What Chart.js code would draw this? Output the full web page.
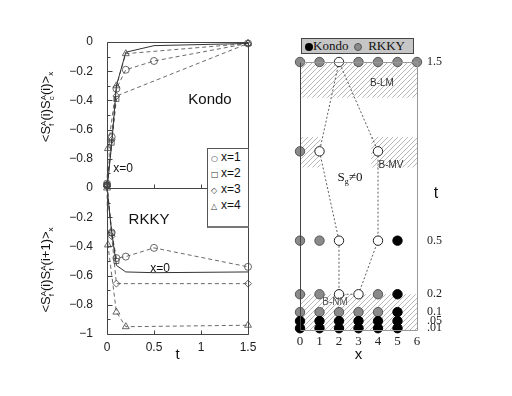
<!DOCTYPE html>
<html>
<head>
<meta charset="utf-8">
<script src="https://cdn.jsdelivr.net/npm/chart.js@4.4.0/dist/chart.umd.min.js"></script>
<style>
html, body { margin: 0; padding: 0; background: #fff; }
#wrap { position: relative; width: 512px; height: 396px; overflow: hidden; }
canvas { position: absolute; left: 0; top: 0; }
.lbl { position: absolute; font-family: "Liberation Sans", Arial, sans-serif; color: #111; white-space: nowrap; line-height: 1; transform: translate(-50%, -50%); }
.serif { font-family: "Liberation Serif", "Times New Roman", serif; }
.ytitle { position: absolute; font-family: "Liberation Sans", Arial, sans-serif; font-size: 13px; line-height: 16px; color: #111; white-space: nowrap; transform: translate(-50%, -50%) rotate(-90deg); }
.ss { display: inline-block; vertical-align: -4px; font-size: 8px; line-height: 8px; }
.ss i { display: block; font-style: normal; }
.sx { font-size: 8px; vertical-align: -3px; }
#leg { position: absolute; left: 207px; top: 148px; width: 40px; height: 77px; border: 1px solid #555; border-bottom: 2px solid #777; background: #fff; font-family: "Liberation Sans", Arial, sans-serif; font-size: 12px; color: #111; }
#leg div { height: 16px; line-height: 16px; padding-left: 3px; }
#leg span { font-family: "DejaVu Sans", sans-serif; font-size: 8px; display: inline-block; width: 10px; color: #333; }
#pleg { position: absolute; left: 301px; top: 38px; width: 111px; height: 14px; border: 1px solid #444; background: #c6c6c6; font-family: "Liberation Serif", serif; font-size: 13px; line-height: 14px; color: #111; }
.dot { display: inline-block; width: 8px; height: 8px; border-radius: 50%; vertical-align: -1px; box-sizing: border-box; }
</style>
</head>
<body>
<div id="wrap">
  <canvas id="kondo" width="512" height="396"></canvas>
  <canvas id="rkky" width="512" height="396"></canvas>
  <canvas id="phase" width="512" height="396"></canvas>

  <div class="ytitle" style="left:48px; top:107px">&lt;S<span class="ss"><i>A</i><i>f</i></span>(i)S<span class="ss"><i>A</i><i>c</i></span>(i)&gt;<span class="sx">x</span></div>
  <div class="ytitle" style="left:48px; top:270px">&lt;S<span class="ss"><i>A</i><i>f</i></span>(i)S<span class="ss"><i>A</i><i>f</i></span>(i+1)&gt;<span class="sx">x</span></div>

  <div class="lbl" style="left:210px; top:98px; font-size:15px">Kondo</div>
  <div class="lbl" style="left:149px; top:218px; font-size:15px">RKKY</div>
  <div class="lbl" style="left:123px; top:168px; font-size:12px">x=0</div>
  <div class="lbl" style="left:160px; top:268px; font-size:12px">x=0</div>

  <div id="leg">
    <div><span>○</span>x=1</div>
    <div><span>□</span>x=2</div>
    <div><span>◇</span>x=3</div>
    <div><span>△</span>x=4</div>
  </div>

  <div id="pleg">
    <span class="dot" style="background:#000; margin-left:3px"></span>Kondo
    <span class="dot" style="background:#8a8a8a; border:1px solid #555; margin-left:2px"></span>&nbsp; RKKY
  </div>

  <div class="lbl" style="left:382px; top:83px; font-size:10px; color:#333">B-LM</div>
  <div class="lbl" style="left:391px; top:165px; font-size:10px; color:#333">B-MV</div>
  <div class="lbl serif" style="left:350px; top:178px; font-size:13px">S<sub style="font-size:8px">g</sub>&#8800;0</div>
  <div class="lbl" style="left:335px; top:302px; font-size:10px; color:#555">B-NM</div>
  <div class="lbl" style="left:436px; top:193px; font-size:16px">t</div>
</div>

<script>
// ---- left panel: Kondo correlation <Sf Sc>_x versus t
const kondoT0 = [0, 0.01, 0.05, 0.1, 0.2, 0.5, 1.5];
const kondoV0 = [-0.99, -0.95, -0.70, -0.30, -0.07, -0.025, -0.01];
const kondoT1 = [0, 0.05, 0.1, 0.2, 0.5, 1.5];
const kondoV1 = [-0.97, -0.65, -0.32, -0.19, -0.13, -0.01];
const kondoT2 = [0, 0.05, 0.1];
const kondoV2 = [-0.98, -0.69, -0.39];
const kondoT3 = [0, 0.05, 0.1, 1.5];
const kondoV3 = [-0.98, -0.67, -0.37, -0.01];
const kondoT4 = [0, 0.01, 0.1, 0.2, 1.5];
const kondoV4 = [-0.98, -0.73, -0.30, -0.08, -0.01];

// ---- left panel: RKKY correlation <Sf(i) Sf(i+1)>_x versus t
const rkkyT0 = [0, 0.05, 0.1, 0.2, 0.5, 1.5];
const rkkyV0 = [0.0, -0.30, -0.53, -0.575, -0.58, -0.575];
const rkkyT1 = [0, 0.05, 0.1, 0.2, 0.5, 1.5];
const rkkyV1 = [0.02, -0.305, -0.48, -0.47, -0.41, -0.54];
const rkkyT2 = [0, 0.05, 0.1];
const rkkyV2 = [0.02, -0.31, -0.50];
const rkkyT3 = [0, 0.05, 0.1, 1.5];
const rkkyV3 = [0.01, -0.33, -0.655, -0.655];
const rkkyT4 = [0, 0.01, 0.1, 0.2, 1.5];
const rkkyV4 = [0.0, -0.39, -0.85, -0.95, -0.94];

// ---- right panel: phase diagram (K = Kondo, R = RKKY, S = Sg != 0)
const siteX = [0, 1, 2, 3, 4, 5, 6];
const rowT = [1.5, 1.0, 0.5, 0.2, 0.1, 0.05, 0.01];
const row150 = ['R', 'R', 'S', 'R', 'R', 'R', 'R'];
const row100 = ['R', 'S', '', '', 'S', '', ''];
const row050 = ['R', 'R', 'S', '', 'S', 'K', ''];
const row020 = ['R', 'R', 'S', 'S', 'R', 'K', ''];
const row010 = ['R', 'R', 'R', 'R', 'R', 'K', ''];
const row005 = ['K', 'K', 'K', 'K', 'K', 'K', ''];
const row001 = ['K', 'K', 'K', 'K', 'K', 'K', ''];
const phaseRows = [row150, row100, row050, row020, row010, row005, row001];

const boundaryX = [2, 1, 2, 2, 3, 4, 4, 2];
const boundaryT = [1.5, 1.0, 0.5, 0.2, 0.2, 0.5, 1.0, 1.5];

const bandX0 = [0, 0, 3.65, 0];
const bandX1 = [6, 1.05, 6, 6];
const bandT0 = [1.3, 0.91, 0.91, 0];
const bandT1 = [1.5, 1.08, 1.08, 0.2];

const tTicks = [0.01, 0.05, 0.1, 0.2, 0.5, 1.5];
const tTickLabels = ['.01', '.05', '0.1', '0.2', '0.5', '1.5'];

const sans = "'Liberation Sans', Arial, sans-serif";
const serif = "'Liberation Serif', 'Times New Roman', serif";

function pts(ts, vs) { return ts.map((t, i) => ({ x: t, y: vs[i] })); }

// frame around the plot area plus small inward ticks
const framePlugin = {
  id: 'frame',
  afterDatasetsDraw(chart, args, o) {
    const a = chart.chartArea, ctx = chart.ctx;
    const L = Math.round(a.left) + 0.5, R = Math.round(a.right) + 0.5;
    const T = Math.round(a.top) + 0.5, B = Math.round(a.bottom) + 0.5;
    ctx.save();
    ctx.lineWidth = 1;
    const seg = (x1, y1, x2, y2, c) => { ctx.strokeStyle = c; ctx.beginPath(); ctx.moveTo(x1, y1); ctx.lineTo(x2, y2); ctx.stroke(); };
    seg(L, T, R, T, o.top);
    seg(R, T, R, B, o.right);
    seg(L, B, R, B, o.bottom);
    seg(L, T, L, B, o.left);
    ctx.strokeStyle = '#444';
    if (o.yTicks) {
      const s = chart.scales.y;
      s.ticks.forEach(tk => {
        const y = Math.round(s.getPixelForValue(tk.value)) + 0.5;
        const len = tk.label === '' ? 3 : 5;
        ctx.beginPath(); ctx.moveTo(L, y); ctx.lineTo(L + len, y); ctx.stroke();
      });
    }
    if (o.xTicks) {
      const s = chart.scales.x;
      s.ticks.forEach(tk => {
        const x = Math.round(s.getPixelForValue(tk.value)) + 0.5;
        ctx.beginPath(); ctx.moveTo(x, B); ctx.lineTo(x, B - 4); ctx.stroke();
      });
    }
    ctx.restore();
  }
};

function seriesSets(t0, v0, t1, v1, t2, v2, t3, v3, t4, v4) {
  const mk = (d, style, r) => ({
    data: d, borderColor: '#444', borderWidth: 0.8, borderDash: [4, 3],
    pointStyle: style, pointRadius: r, pointBorderColor: '#444', pointBorderWidth: 0.8,
    pointBackgroundColor: 'rgba(255,255,255,0)', tension: 0, clip: false
  });
  return [
    { data: pts(t0, v0), borderColor: '#333', borderWidth: 1, pointRadius: 0, tension: 0, clip: false },
    mk(pts(t1, v1), 'circle', 3.5),
    mk(pts(t2, v2), 'rect', 3.5),
    mk(pts(t3, v3), 'rectRot', 3.5),
    mk(pts(t4, v4), 'triangle', 4)
  ];
}

function yLabel(hideBottom) {
  return function (v) {
    const k = Math.round(v * 10);
    if (k % 2 !== 0) return '';
    if (hideBottom && k === -10) return '';
    if (k === 0) return '0';
    if (k === -10) return '\u22121';
    return '\u2212' + Math.abs(v).toFixed(1);
  };
}

const baseOpts = {
  responsive: false, animation: false,
  plugins: { legend: { display: false }, tooltip: { enabled: false } }
};

new Chart(document.getElementById('kondo'), {
  type: 'line',
  data: { datasets: seriesSets(kondoT0, kondoV0, kondoT1, kondoV1, kondoT2, kondoV2, kondoT3, kondoV3, kondoT4, kondoV4) },
  options: Object.assign({}, baseOpts, {
    layout: { padding: { left: 67, right: 264, top: 42, bottom: 208 } },
    plugins: { legend: { display: false }, tooltip: { enabled: false },
      frame: { top: '#444', right: '#444', bottom: '#444', left: '#444', yTicks: true, xTicks: true } },
    scales: {
      x: { type: 'linear', min: 0, max: 1.5, display: false, ticks: { stepSize: 0.5 } },
      y: { min: -1, max: 0, afterFit: s => { s.width = 40; },
        grid: { display: false, drawTicks: false }, border: { display: false },
        ticks: { stepSize: 0.1, autoSkip: false, padding: 14, color: '#222', font: { family: sans, size: 12 }, callback: yLabel(true) } }
    }
  }),
  plugins: [framePlugin]
});

new Chart(document.getElementById('rkky'), {
  type: 'line',
  data: { datasets: seriesSets(rkkyT0, rkkyV0, rkkyT1, rkkyV1, rkkyT2, rkkyV2, rkkyT3, rkkyV3, rkkyT4, rkkyV4) },
  options: Object.assign({}, baseOpts, {
    layout: { padding: { left: 67, right: 264, top: 188, bottom: 32 } },
    plugins: { legend: { display: false }, tooltip: { enabled: false },
      frame: { top: '#444', right: '#444', bottom: '#444', left: '#444', yTicks: true, xTicks: true } },
    scales: {
      x: { type: 'linear', min: 0, max: 1.5, afterFit: s => { s.height = 30; },
        grid: { display: false, drawTicks: false }, border: { display: false },
        title: { display: true, text: 't', padding: 0, color: '#111', font: { family: sans, size: 15 } },
        ticks: { stepSize: 0.5, padding: 6, color: '#222', font: { family: sans, size: 12 },
          callback: v => v === 0 ? '0' : (v === 1 ? '1' : String(v)) } },
      y: { min: -1, max: 0, afterFit: s => { s.width = 40; },
        grid: { display: false, drawTicks: false }, border: { display: false },
        ticks: { stepSize: 0.1, autoSkip: false, padding: 14, color: '#222', font: { family: sans, size: 12 }, callback: yLabel(false) } }
    }
  }),
  plugins: [framePlugin]
});

// ---- phase diagram
function hatchPattern(ctx) {
  const c = document.createElement('canvas');
  c.width = 5; c.height = 5;
  const g = c.getContext('2d');
  g.strokeStyle = '#b8b8b8'; g.lineWidth = 1;
  g.beginPath();
  g.moveTo(0, 5); g.lineTo(5, 0);
  g.moveTo(-1, 1); g.lineTo(1, -1);
  g.moveTo(4, 6); g.lineTo(6, 4);
  g.stroke();
  return ctx.createPattern(c, 'repeat');
}

const bandPlugin = {
  id: 'bands',
  beforeDatasetsDraw(chart) {
    const ctx = chart.ctx, xs = chart.scales.x, ys = chart.scales.y;
    ctx.save();
    ctx.fillStyle = hatchPattern(ctx);
    bandX0.forEach((x0, i) => {
      const l = xs.getPixelForValue(x0), r = xs.getPixelForValue(bandX1[i]);
      const t = ys.getPixelForValue(bandT1[i]), b = ys.getPixelForValue(bandT0[i]);
      ctx.fillRect(l, t, r - l, b - t);
    });
    ctx.restore();
  }
};

const kondoPts = [], rkkyPts = [], sgPts = [];
phaseRows.forEach((row, r) => {
  row.forEach((s, i) => {
    const p = { x: siteX[i], y: rowT[r] };
    if (s === 'K') kondoPts.push(p);
    else if (s === 'R') rkkyPts.push(p);
    else if (s === 'S') sgPts.push(p);
  });
});

const dotSet = (d, fill, edge) => ({
  type: 'scatter', data: d, pointRadius: 4.7, pointBackgroundColor: fill,
  pointBorderColor: edge, pointBorderWidth: 1, showLine: false, clip: false, order: 0
});

new Chart(document.getElementById('phase'), {
  type: 'scatter',
  data: {
    datasets: [
      dotSet(kondoPts, '#000', '#000'),
      dotSet(rkkyPts, '#8a8a8a', '#555'),
      dotSet(sgPts, '#fff', '#222'),
      { type: 'line', data: pts(boundaryX, boundaryT), borderColor: '#333', borderWidth: 0.8,
        borderDash: [2, 2], pointRadius: 0, tension: 0, clip: false, order: 5 }
    ]
  },
  options: Object.assign({}, baseOpts, {
    layout: { padding: { left: 300, right: 65, top: 62, bottom: 32 } },
    plugins: { legend: { display: false }, tooltip: { enabled: false },
      frame: { top: '#999', right: '#999', bottom: '#999', left: '#444' } },
    scales: {
      x: { type: 'linear', min: 0, max: 6, afterFit: s => { s.height = 34; },
        grid: { display: false, drawTicks: false }, border: { display: false },
        title: { display: true, text: 'x', padding: 0, color: '#111', font: { family: sans, size: 15 } },
        ticks: { stepSize: 1, padding: 4, color: '#222', font: { family: serif, size: 13 } } },
      y: { type: 'linear', position: 'right', min: 0, max: 1.5, afterFit: s => { s.width = 30; },
        grid: { display: false, drawTicks: false }, border: { display: false },
        afterBuildTicks: s => { s.ticks = tTicks.map(v => ({ value: v })); },
        ticks: { autoSkip: false, padding: 10, color: '#222', font: { family: serif, size: 12 },
          callback: v => tTickLabels[tTicks.indexOf(v)] } }
    }
  }),
  plugins: [bandPlugin, framePlugin]
});
</script>
</body>
</html>
